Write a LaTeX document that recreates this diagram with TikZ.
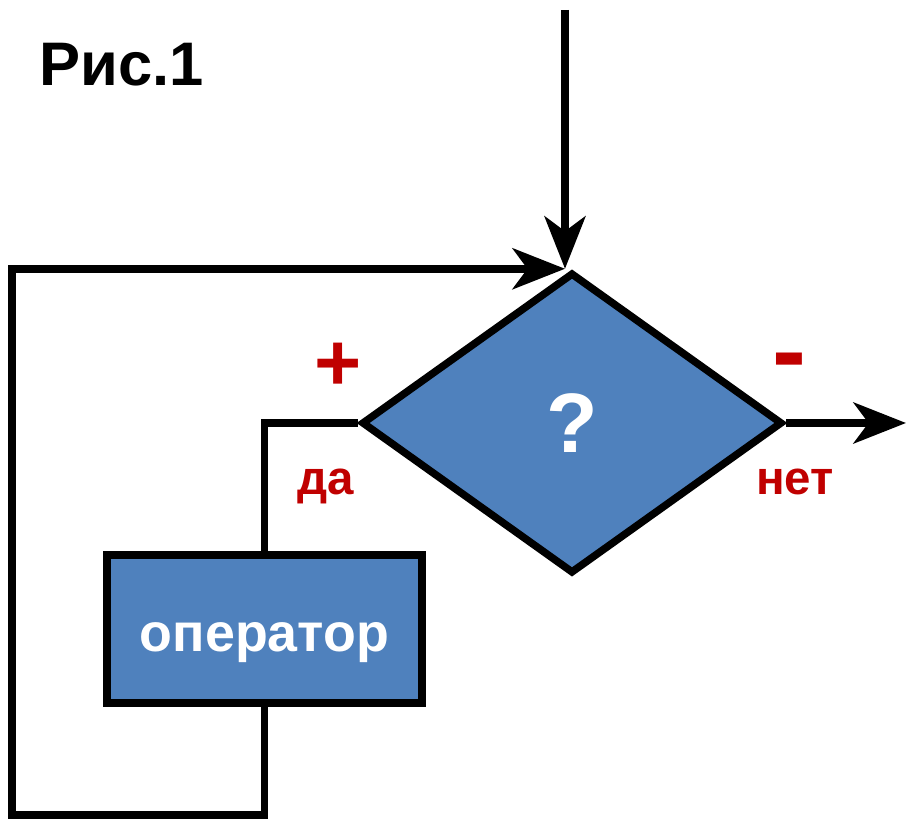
\documentclass[tikz,border=0pt]{standalone}
\usepackage{fontspec}
\setmainfont{Liberation Sans}
\usepackage{tikz}
\usetikzlibrary{shapes,shapes.geometric}
\usetikzlibrary{arrows.meta}
\definecolor{flowblue}{HTML}{4F81BD}
\definecolor{flowred}{HTML}{C00000}
\tikzset{
	condnode/.style={diamond, draw=black, fill=flowblue, line width=0.15cm, inner sep=0pt, minimum width=8.42cm, minimum height=6.02cm, text=white, font=\bfseries\fontsize{48}{56}\selectfont}
}
\tikzset{
	opnode/.style={rectangle, draw=black, fill=flowblue, line width=0.15cm, inner sep=0pt, minimum width=6.3cm, minimum height=2.96cm, text height=0.92cm, text depth=0pt, text=white, font=\bfseries\fontsize{30.6}{36}\selectfont}
}
\tikzset{
	redlabel/.style={anchor=base, text=flowred, font=\bfseries\fontsize{27}{32}\selectfont}
}
\tikzset{
	flowline/.style={line width=0.15cm, line join=miter, -{Stealth[length=1.05cm, width=0.82cm, inset=0.3cm]}}
}

\begin{document}
\begin{tikzpicture}[x=0.02cm, y=-0.02cm]
			\useasboundingbox (0,0) rectangle (907,820);
			\node[anchor=base west, font=\bfseries\fontsize{35}{40}\selectfont] (title) at (33,86) {Рис.1};
			\node[condnode] (cond) at (572,423) {?};
			\node[opnode] (op) at (264.5,629) {оператор};
			\coordinate (entry) at (565,10);
			\coordinate (exit) at (906,423);
			\coordinate (loopcorner) at (12,815);
			\draw[flowline] (entry) -- (entry |- cond.north);
			\draw[flowline] (cond.east) -- (exit);
			\draw[line width=0.15cm, line join=miter] (cond.west) -| (op.north);
			\draw[flowline] (op.south) |- (loopcorner) |- (entry |- cond.north);
			\node[text=flowred, font=\bfseries\fontsize{46}{50}\selectfont] (plus) at (338,367) {+};
			\node[text=flowred, font=\bfseries\fontsize{58}{60}\selectfont] (minus) at (789,369) {-};
			\node[redlabel] (yes) at (326,495) {да};
			\node[redlabel] (no) at (795,495) {нет};
		\end{tikzpicture}
\end{document}
